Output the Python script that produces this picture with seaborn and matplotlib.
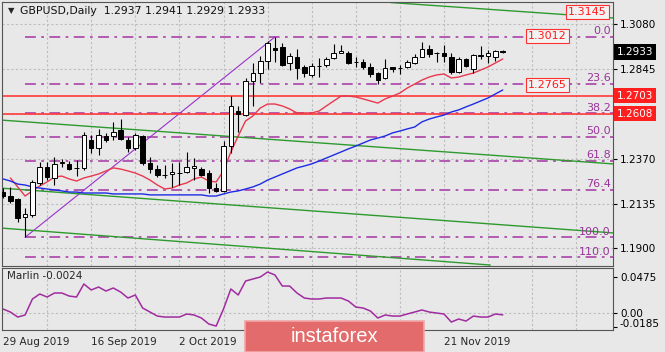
import numpy as np
import pandas as pd
import matplotlib
matplotlib.use('Agg')
import matplotlib.pyplot as plt
import seaborn as sns
from matplotlib.patches import Rectangle
from matplotlib.transforms import blended_transform_factory, ScaledTranslation

sns.set_style('white')
plt.rcParams['font.family'] = ['DejaVu Sans']

BG = '#E8E8E8'

# daily bars, 29 Aug 2019 .. 3 Dec 2019
dates = pd.bdate_range('2019-08-29', '2019-12-03')
date_labels = ['29 Aug 2019', '16 Sep 2019', '2 Oct 2019', '21 Nov 2019']

opens = [1.2196, 1.2175, 1.2159, 1.2065, 1.2075, 1.2244, 1.2328, 1.2270, 1.2349, 1.2344,
         1.2320, 1.2322, 1.2470, 1.2428, 1.2491, 1.2491, 1.2522, 1.2470, 1.2428, 1.2491,
         1.2349, 1.2317, 1.2287, 1.2291, 1.2297, 1.2302, 1.2322, 1.2317, 1.2296, 1.2217,
         1.2202, 1.2438, 1.2622, 1.2601, 1.2780, 1.2822, 1.2885, 1.2954, 1.2959, 1.2875,
         1.2907, 1.2854, 1.2812, 1.2859, 1.2864, 1.2901, 1.2927, 1.2927, 1.2882, 1.2880,
         1.2854, 1.2822, 1.2796, 1.2854, 1.2850, 1.2854, 1.2875, 1.2907, 1.2949, 1.2928,
         1.2927, 1.2907, 1.2828, 1.2896, 1.2843, 1.2917, 1.2912, 1.2907, 1.2937]
highs = [1.2217, 1.2223, 1.2165, 1.2112, 1.2259, 1.2354, 1.2354, 1.2380, 1.2370, 1.2359,
         1.2365, 1.2512, 1.2496, 1.2528, 1.2507, 1.2564, 1.2580, 1.2486, 1.2507, 1.2496,
         1.2380, 1.2338, 1.2338, 1.2349, 1.2354, 1.2407, 1.2375, 1.2328, 1.2312, 1.2244,
         1.2465, 1.2701, 1.2649, 1.2796, 1.2875, 1.2912, 1.2991, 1.3012, 1.2980, 1.2927,
         1.2949, 1.2864, 1.2875, 1.2901, 1.2907, 1.2975, 1.2970, 1.2938, 1.2907, 1.2896,
         1.2875, 1.2828, 1.2896, 1.2856, 1.2864, 1.2891, 1.2922, 1.2985, 1.2970, 1.2933,
         1.2970, 1.2927, 1.2907, 1.2901, 1.2922, 1.2964, 1.2943, 1.2943, 1.2941]
lows = [1.2165, 1.2138, 1.2039, 1.1958, 1.2065, 1.2233, 1.2259, 1.2233, 1.2328, 1.2312,
        1.2280, 1.2312, 1.2401, 1.2391, 1.2459, 1.2470, 1.2470, 1.2407, 1.2417, 1.2338,
        1.2296, 1.2275, 1.2270, 1.2223, 1.2233, 1.2296, 1.2259, 1.2280, 1.2191, 1.2196,
        1.2196, 1.2401, 1.2512, 1.2596, 1.2649, 1.2770, 1.2843, 1.2880, 1.2859, 1.2838,
        1.2791, 1.2801, 1.2801, 1.2801, 1.2854, 1.2896, 1.2927, 1.2870, 1.2854, 1.2843,
        1.2801, 1.2764, 1.2791, 1.2828, 1.2817, 1.2849, 1.2870, 1.2905, 1.2907, 1.2880,
        1.2880, 1.2817, 1.2822, 1.2854, 1.2822, 1.2896, 1.2875, 1.2885, 1.2929]
closes = [1.2175, 1.2149, 1.2060, 1.2081, 1.2249, 1.2328, 1.2275, 1.2344, 1.2352, 1.2317,
          1.2324, 1.2496, 1.2428, 1.2496, 1.2470, 1.2512, 1.2475, 1.2428, 1.2496, 1.2349,
          1.2317, 1.2286, 1.2285, 1.2302, 1.2295, 1.2328, 1.2333, 1.2286, 1.2217, 1.2202,
          1.2438, 1.2649, 1.2607, 1.2780, 1.2822, 1.2885, 1.2980, 1.2943, 1.2864, 1.2912,
          1.2849, 1.2822, 1.2859, 1.2857, 1.2896, 1.2927, 1.2938, 1.2875, 1.2880, 1.2854,
          1.2817, 1.2785, 1.2849, 1.2843, 1.2848, 1.2880, 1.2907, 1.2949, 1.2922, 1.2927,
          1.2912, 1.2828, 1.2896, 1.2859, 1.2917, 1.2912, 1.2927, 1.2938, 1.2933]

# fast MA (red), starts on the 2nd bar
ma_fast = [1.2270, 1.2223, 1.2175, 1.2202, 1.2228, 1.2249, 1.2275, 1.2280, 1.2265, 1.2254,
           1.2270, 1.2280, 1.2291, 1.2307, 1.2323, 1.2317, 1.2307, 1.2296, 1.2280, 1.2259,
           1.2233, 1.2212, 1.2217, 1.2233, 1.2244, 1.2265, 1.2275, 1.2254, 1.2249, 1.2307,
           1.2407, 1.2491, 1.2570, 1.2596, 1.2638, 1.2659, 1.2659, 1.2649, 1.2633, 1.2612,
           1.2612, 1.2612, 1.2622, 1.2649, 1.2675, 1.2701, 1.2701, 1.2696, 1.2686, 1.2675,
           1.2664, 1.2686, 1.2701, 1.2717, 1.2743, 1.2764, 1.2785, 1.2801, 1.2812, 1.2817,
           1.2796, 1.2801, 1.2812, 1.2822, 1.2838, 1.2854, 1.2875, 1.2896]
# slow MA (blue)
ma_slow = [1.2265, 1.2254, 1.2238, 1.2233, 1.2223, 1.2217, 1.2212, 1.2207, 1.2202, 1.2196,
           1.2196, 1.2191, 1.2191, 1.2191, 1.2191, 1.2186, 1.2186, 1.2186, 1.2186, 1.2186,
           1.2181, 1.2181, 1.2181, 1.2181, 1.2181, 1.2181, 1.2181, 1.2181, 1.2175, 1.2175,
           1.2186, 1.2196, 1.2202, 1.2212, 1.2223, 1.2238, 1.2259, 1.2275, 1.2291, 1.2307,
           1.2323, 1.2333, 1.2344, 1.2359, 1.2375, 1.2391, 1.2407, 1.2423, 1.2438, 1.2454,
           1.2470, 1.2480, 1.2491, 1.2507, 1.2517, 1.2528, 1.2538, 1.2565, 1.2580, 1.2591,
           1.2601, 1.2617, 1.2628, 1.2644, 1.2659, 1.2675, 1.2691, 1.2712, 1.2733]

marlin = [0.0053, 0.0013, -0.0053, -0.0026, 0.0185, 0.0251, 0.0211, 0.0264, 0.0264, 0.0224,
          0.0211, 0.0383, 0.0304, 0.0343, 0.0290, 0.0330, 0.0277, 0.0198, 0.0238, 0.0066,
          0.0013, -0.0040, -0.0053, -0.0053, -0.0053, -0.0013, -0.0026, -0.0066, -0.0145, -0.0172,
          0.0053, 0.0317, 0.0238, 0.0422, 0.0449, 0.0475, 0.0541, 0.0502, 0.0356, 0.0356,
          0.0264, 0.0198, 0.0185, 0.0185, 0.0198, 0.0198, 0.0198, 0.0158, 0.0079, 0.0066,
          0.0026, -0.0066, -0.0026, -0.0040, -0.0040, -0.0013, 0.0013, 0.0040, 0.0013, 0.0,
          -0.0013, -0.0119, -0.0079, -0.0106, -0.0040, -0.0053, -0.0053, -0.0013, -0.0024]

fib_ratios = [0.0, 0.236, 0.382, 0.5, 0.618, 0.764, 1.0, 1.1]
fib_labels = ['0.0', '23.6', '38.2', '50.0', '61.8', '76.4', '100.0', '110.0']

levels = [1.2703, 1.2608]
price_ticks = [1.3080, 1.2845, 1.2608, 1.2370, 1.2135, 1.1900]
price_tick_labels = ['1.3080', '1.2845', '', '1.2370', '1.2135', '1.1900']

# channel lines: (bar, price) anchors
trend_x = [(-0.4, 83.0), (-0.4, 83.0), (-0.4, 66.3), (52.7, 83.0)]
trend_y = [(1.2575, 1.2344), (1.2217, 1.1981), (1.2007, 1.1812), (1.3193, 1.3112)]

# boxed price notes: (bar, price, text)
notes = [(79.5, 1.3143, '1.3145'), (74.1, 1.3017, '1.3012'), (74.1, 1.2759, '1.2765')]

marlin_ticks = [0.0475, 0.0, -0.0185]
marlin_tick_labels = ['0.0475', '0.00', '-0.0185']

n = len(closes)
idx = np.arange(n)
o, h, l, c = map(np.array, (opens, highs, lows, closes))
XMIN, XMAX = -0.14, 83.0

fig = plt.figure(figsize=(6.65, 3.52), dpi=100, facecolor=BG)
ax = fig.add_axes([2 / 665, 1 - 265.5 / 352, 611 / 665, 263.5 / 352], facecolor=BG)
ax2 = fig.add_axes([2 / 665, 1 - 330 / 352, 611 / 665, 62 / 352], facecolor=BG)

grid_bars = list(range(6, 83, 6))
for a in (ax, ax2):
    a.set_xlim(XMIN, XMAX)
    a.set_xticks(grid_bars, minor=True)
    a.tick_params(axis='x', which='minor', length=0)
    a.grid(axis='x', which='minor', ls=(0, (2, 2)), color='#BDBDBD', lw=0.8)
    for s in a.spines.values():
        s.set_color('#555555')
        s.set_linewidth(0.8)
    a.yaxis.tick_right()
    a.tick_params(axis='y', direction='out', length=3, labelsize=7.5, pad=2, colors='black')

# main panel
ax.set_ylim(1.18096, 1.31957)
ax.set_yticks(price_ticks)
ax.set_yticklabels(price_tick_labels)
ax.set_xticks([])
ax.grid(axis='y', ls=(0, (2, 2)), color='#BDBDBD', lw=0.8)

i_lo, i_hi = int(np.argmin(l)), int(np.argmax(h))
lo, hi = l[i_lo], h[i_hi]
for r, lab in zip(fib_ratios, fib_labels):
    lvl = hi - r * (hi - lo)
    ax.plot([i_lo, XMAX], [lvl, lvl], color='#AE4FAE', lw=1.3,
            ls=(0, (6, 3, 1.5, 3)), zorder=2)
    ax.text(82.7, lvl + 0.0004, lab, ha='right', va='bottom', color='#993399', fontsize=8)
ax.plot([i_lo, i_hi], [lo, hi], color='#9932CC', lw=0.8, zorder=2)

for lv in levels:
    ax.axhline(lv, color='#FF3B3B', lw=1.2, zorder=2)

for tx, ty in zip(trend_x, trend_y):
    ax.plot(tx, ty, color='#2E9A2E', lw=1.0, zorder=2)

sns.lineplot(x=idx[1:], y=ma_fast, ax=ax, color='#E8384F', lw=1.0, zorder=3, legend=False)
sns.lineplot(x=idx, y=ma_slow, ax=ax, color='#1E2BE6', lw=1.0, zorder=3, legend=False)

up = c >= o
ax.vlines(idx, l, h, color='black', lw=0.8, zorder=4)
ax.bar(idx[up], (c - o)[up], bottom=o[up], width=0.62, color='white',
       edgecolor='black', linewidth=0.7, zorder=5)
ax.bar(idx[~up], (o - c)[~up], bottom=c[~up], width=0.62, color='black',
       edgecolor='black', linewidth=0.7, zorder=5)

for bx, by, txt in notes:
    ax.text(bx, by, txt, ha='center', va='center', color='#FF1A1A', fontsize=8, zorder=6,
            bbox=dict(boxstyle='square,pad=0.2', fc='#F3F3F3', ec='#FF3030', lw=0.8))

tr = blended_transform_factory(ax.transAxes, ax.transData)
tags = [(c[-1], 'black'), (levels[0], '#FF1F1F'), (levels[1], '#FF1F1F')]
for val, col in tags:
    ax.text(1.006, val, f'{val:.4f}', transform=tr, ha='left', va='center', color='white',
            fontsize=7.5, zorder=7, clip_on=False,
            bbox=dict(boxstyle='square,pad=0.25', fc=col, ec='none'))

ax.text(0.0098, 0.966, '▼', transform=ax.transAxes, fontsize=6, va='center', ha='left')
ax.text(0.029, 0.966, 'GBPUSD,Daily  1.2937 1.2941 1.2929 1.2933', transform=ax.transAxes,
        fontsize=7.8, va='center', ha='left', color='#111111')

# indicator panel
sns.lineplot(x=idx, y=marlin, ax=ax2, color='#A02CA0', lw=1.1, legend=False)
ax2.axhline(0, ls=(0, (2, 2)), color='#BDBDBD', lw=0.8, zorder=0)
ax2.set_ylim(-0.0224, 0.0594)
ax2.set_yticks(marlin_ticks)
ax2.set_yticklabels(marlin_tick_labels)
lbl = ax2.get_yticklabels()[-1]
lbl.set_transform(lbl.get_transform() + ScaledTranslation(0, 4 / 100, fig.dpi_scale_trans))
ax2.text(0.008, 0.87, 'Marlin -0.0024', transform=ax2.transAxes, fontsize=7.5, va='center')

date_idx = [list(dates.strftime('%-d %b %Y')).index(d) for d in date_labels]
ax2.set_xticks(date_idx)
ax2.set_xticklabels(date_labels, fontsize=7.5)
ax2.tick_params(axis='x', which='major', length=3, pad=2)
for t in ax2.get_xticklabels():
    t.set_ha('left')

# watermark
fig.patches.append(Rectangle((245 / 665, 0), 179 / 665, 31 / 352, transform=fig.transFigure,
                             fc='#E36B6B', ec='#F0A8A8', lw=1.2, zorder=10))
fig.text(334 / 665, 15 / 352, 'instaforex', color='white', fontsize=14.5, ha='center',
         va='center', family=['Liberation Sans', 'DejaVu Sans'], zorder=11)

fig.savefig('out.png', dpi=100, facecolor=BG)
